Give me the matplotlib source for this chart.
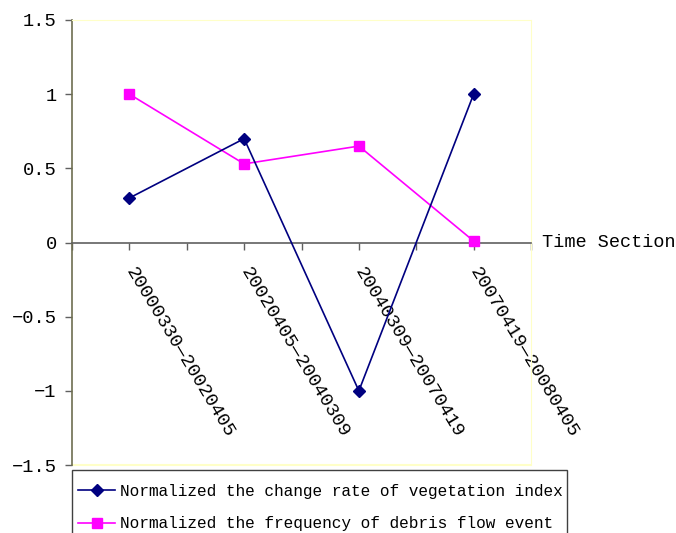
import matplotlib.pyplot as plt
from matplotlib.patches import Rectangle
from matplotlib.ticker import FixedLocator

# Data
time_sections = ['20000330\u201420020405', '20020405\u201420040309',
                 '20040309\u201420070419', '20070419\u201420080405']
vegetation_rate = [0.30, 0.70, -1.00, 1.00]
debris_freq = [1.00, 0.53, 0.65, 0.01]
y_ticks = [-1.5, -1.0, -0.5, 0.0, 0.5, 1.0, 1.5]
y_tick_labels = ['\u22121.5', '\u22121', '\u22120.5', '0', '0.5', '1', '1.5']

plt.rcParams['font.family'] = ['Liberation Mono', 'DejaVu Sans Mono']

W, H = 676, 533
fig = plt.figure(figsize=(W / 100, H / 100), dpi=100)
ax = fig.add_axes([72 / W, 1 - 465 / H, (531 - 72) / W, (465 - 20) / H])

x = list(range(len(time_sections)))

ax.plot(x, vegetation_rate, color='#000080', marker='D', markersize=6.5, linewidth=1.2,
        label='Normalized the change rate of vegetation index', zorder=4, clip_on=False)
ax.plot(x, debris_freq, color='#FF00FF', marker='s', markersize=7, linewidth=1.2,
        label='Normalized the frequency of debris flow event', zorder=3, clip_on=False)

ax.set_xlim(-0.5, 3.5)
ax.set_ylim(-1.5, 1.5)

# spines: yellow border, grey-olive left axis, x axis sits at zero
border = '#FFFFC8'
ax.spines['top'].set_color(border)
ax.spines['right'].set_color(border)
ax.spines['left'].set_color('#6E6E50')
ax.spines['left'].set_linewidth(1.2)
ax.spines['bottom'].set_position(('data', 0))
ax.spines['bottom'].set_color('#606060')
ax.spines['bottom'].set_linewidth(1.2)
ax.axhline(-1.5, color=border, linewidth=1.5, clip_on=False, zorder=1)

ax.set_yticks(y_ticks)
ax.set_yticklabels(y_tick_labels, fontsize=13.5)
ax.tick_params(axis='y', direction='out', length=5, width=1, color='#606060', pad=6)

ax.xaxis.set_major_locator(FixedLocator(x))
ax.xaxis.set_minor_locator(FixedLocator([-0.5, 0.5, 1.5, 2.5, 3.5]))
ax.set_xticklabels(time_sections, fontsize=13.8, rotation=-59, ha='left', va='center',
                   rotation_mode='anchor')
ax.tick_params(axis='x', which='both', direction='out', length=5, width=1, color='#606060', pad=14)

ax.text(3.5, 0, ' Time Section', fontsize=13.3, ha='left', va='center')

# legend without its own frame; box drawn separately (runs off the bottom edge)
fig.legend(loc='upper left', bbox_to_anchor=(78 / W, 1 - 484 / H), borderaxespad=0,
           fontsize=11.6, frameon=False, handlelength=2.3, handletextpad=0.3,
           labelspacing=1.08, borderpad=0)
fig.patches.append(Rectangle((72 / W, -0.05), (567 - 72) / W, 1 - 470 / H + 0.05,
                             transform=fig.transFigure, fill=False,
                             edgecolor='#404040', linewidth=1.0))

fig.savefig('out.png', dpi=100)
